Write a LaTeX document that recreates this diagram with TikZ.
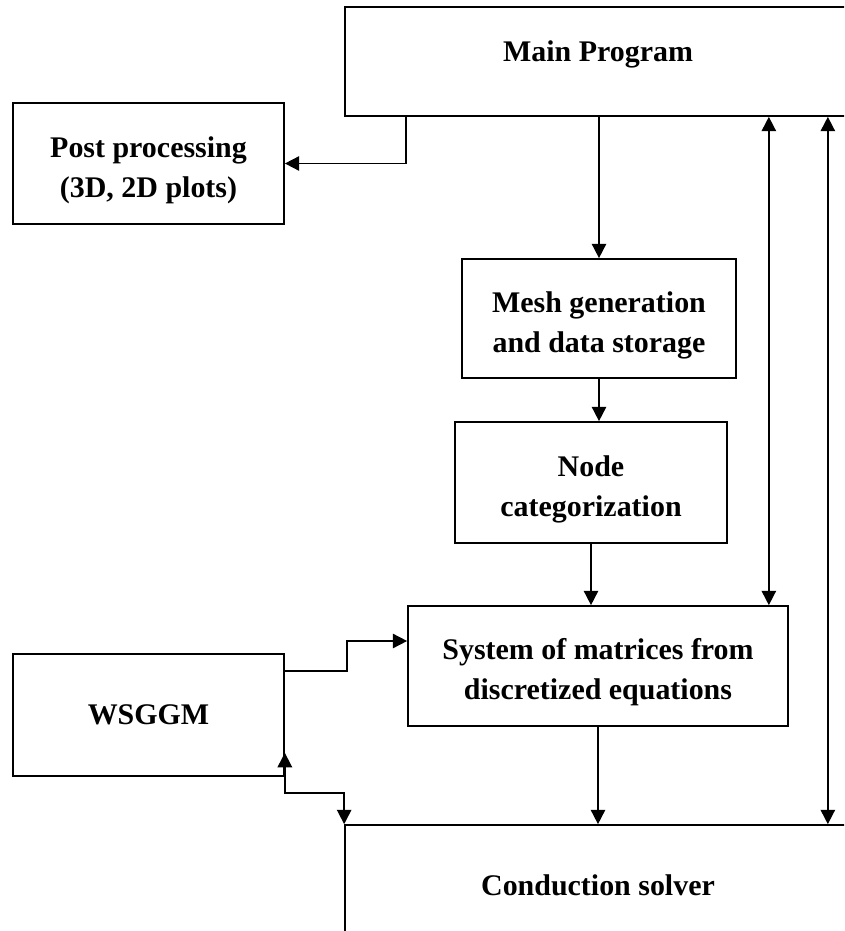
\documentclass[tikz,border=0pt]{standalone}
\usepackage{fontspec}
\setmainfont{Liberation Serif}
\usetikzlibrary{arrows.meta}

\begin{document}
\begin{tikzpicture}[
    blk/.style={draw,line width=1.2pt,inner sep=2pt,align=center,
                font=\fontsize{21.3}{28.5}\selectfont\bfseries},
    two/.style={text height=1.84cm,text depth=0.16cm},
    flow/.style={-{Triangle[length=3.6mm,width=3.6mm]},line width=1.2pt},
    flow2/.style={{Triangle[length=3.6mm,width=3.6mm]}-{Triangle[length=3.6mm,width=3.6mm]},
                  line width=1.2pt},
]

% page frame
\clip (0,0) rectangle (21.1,-23.275);

% blocks
\node[blk,minimum width=12.65cm,minimum height=2.725cm,text depth=0.5cm]
    (MP) at (14.95,-1.5375) {Main Program};
\node[blk,two,minimum width=6.775cm,minimum height=3.025cm]
    (PP) at (3.7125,-4.0875) {Post processing\\(3D, 2D plots)};
\node[blk,two,minimum width=6.85cm,minimum height=2.975cm]
    (MG) at (14.975,-7.9625) {Mesh generation\\and data storage};
\node[blk,two,minimum width=6.8cm,minimum height=3.025cm]
    (NC) at (14.775,-12.0625) {Node\\categorization};
\node[blk,two,minimum width=9.5cm,minimum height=3cm]
    (SM) at (14.95,-16.65) {System of matrices from\\discretized equations};
\node[blk,minimum width=6.775cm,minimum height=3.05cm]
    (WS) at (3.7125,-17.875) {WSGGM};
\node[blk,minimum width=12.65cm,minimum height=3cm]
    (CS) at (14.95,-22.125) {Conduction solver};

% main flow
\draw[flow] ([xshift=1.55cm]MP.south west) |- (PP.east);
\draw[flow] (MG.north |- MP.south) -- (MG.north);
\draw[flow] (MG.south) -- (MG.south |- NC.north);
\draw[flow] (NC.south) -- (NC.south |- SM.north);
\draw[flow] (SM.south) -- (SM.south |- CS.north);

% two-way links to main program
\draw[flow2] ([xshift=-0.5cm]SM.north east) -- ([xshift=-0.5cm]SM.north east |- MP.south);
\draw[flow2] ([xshift=-0.6cm]MP.south east) -- ([xshift=-0.6cm]CS.north east);

% WSGGM links
\draw[flow] ([yshift=-0.45cm]WS.north east) -- ++(1.55,0) |- ([yshift=0.625cm]SM.west);
\draw[flow2] ([yshift=0.6cm]WS.south east) -- ++(0,-1) -| (CS.north west);

\end{tikzpicture}
\end{document}
